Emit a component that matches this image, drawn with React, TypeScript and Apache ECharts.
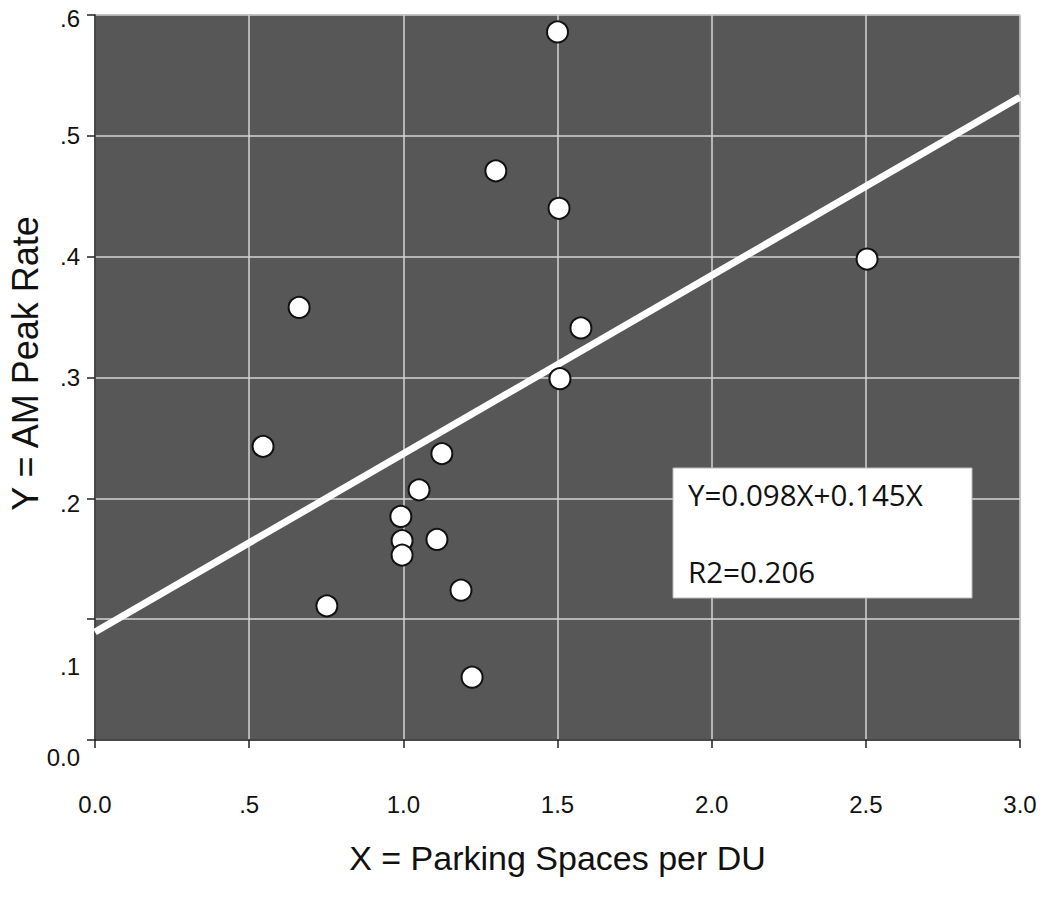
import React, { useEffect, useRef } from "react";
import * as echarts from "echarts";

const xValues = [1.5, 1.3, 1.505, 2.504, 0.662, 1.576, 1.508, 0.545, 1.125, 1.051, 0.992, 0.996, 1.109, 0.996, 0.752, 1.187, 1.223];
const yValues = [0.586, 0.471, 0.44, 0.398, 0.358, 0.341, 0.299, 0.243, 0.237, 0.207, 0.185, 0.165, 0.166, 0.153, 0.111, 0.124, 0.052];
const fitLineX = [0, 3];
const fitLineY = [0.0894, 0.532];
const xTickLabels: Record<string, string> = { "0": "0.0", "0.5": ".5", "1": "1.0", "1.5": "1.5", "2": "2.0", "2.5": "2.5", "3": "3.0" };
const yTickLabels: Record<string, string> = { "0": "0.0", "0.1": ".1", "0.2": ".2", "0.3": ".3", "0.4": ".4", "0.5": ".5", "0.6": ".6" };
const equationText = "Y=0.098X+0.145X";
const r2Text = "R2=0.206";

export default function App() {
  const ref = useRef<HTMLDivElement>(null);
  useEffect(() => {
    if (!ref.current) return;
    const chart = echarts.init(ref.current, undefined, { renderer: "svg" });
    const font = "Liberation Sans";
    const fs = 24;
    const pts = xValues.map((x, i) => [x, yValues[i]]);
    const line = fitLineX.map((x, i) => [x, fitLineY[i]]);
    chart.setOption({
      animation: false,
      backgroundColor: "#ffffff",
      grid: {
        left: 95,
        right: 25,
        top: 15,
        bottom: 172,
        outerBoundsMode: "none",
        containLabel: false,
        show: true,
        backgroundColor: "#575757",
        borderColor: "#333333",
        borderWidth: 1,
      },
      xAxis: {
        type: "value",
        min: 0,
        max: 3,
        interval: 0.5,
        name: "X = Parking Spaces per DU",
        nameLocation: "middle",
        nameGap: 101,
        nameMoveOverlap: false,
        nameTextStyle: { fontFamily: font, fontSize: 34, color: "#111" },
        axisLine: { show: true, lineStyle: { color: "#222", width: 1.5 } },
        axisTick: { show: true, length: 8, lineStyle: { color: "#222", width: 1.5 } },
        axisLabel: {
          margin: 52,
          fontFamily: font,
          fontSize: fs,
          color: "#111",
          formatter: (v: number) => xTickLabels[String(+v.toFixed(2))] ?? "",
        },
        splitLine: { show: true, lineStyle: { color: "#d4d4d4", width: 1.5 } },
      },
      yAxis: {
        type: "value",
        min: 0,
        max: 0.6,
        interval: 0.1,
        name: "Y = AM Peak Rate",
        nameLocation: "middle",
        nameGap: 52,
        nameMoveOverlap: false,
        nameRotate: 90,
        nameTextStyle: { fontFamily: font, fontSize: 36, color: "#111", padding: [0, 0, 0, 28] },
        axisLine: { show: true, lineStyle: { color: "#222", width: 1.5 } },
        axisTick: { show: true, length: 8, lineStyle: { color: "#222", width: 1.5 } },
        axisLabel: {
          margin: 15,
          fontFamily: font,
          fontSize: fs,
          color: "#111",
          formatter: (v: number) => {
            const key = String(+v.toFixed(2));
            const t = yTickLabels[key] ?? "";
            if (key === "0") return `{z|${t}}`;
            if (key === "0.1") return `{o|${t}}`;
            if (key === "0.2") return `{t|${t}}`;
            if (key === "0.6") return `{s|${t}}`;
            return t;
          },
          rich: {
            z: { fontFamily: font, fontSize: fs, color: "#111", padding: [34, 0, 0, 0] },
            o: { fontFamily: font, fontSize: fs, color: "#111", padding: [94, 0, 0, 0] },
            t: { fontFamily: font, fontSize: fs, color: "#111", padding: [10, 0, 0, 0] },
            s: { fontFamily: font, fontSize: fs, color: "#111", padding: [6, 0, 0, 0] },
          },
        },
        splitLine: { show: true, lineStyle: { color: "#d4d4d4", width: 1.5 } },
      },
      series: [
        {
          type: "line",
          data: line,
          symbol: "none",
          lineStyle: { color: "#ffffff", width: 7 },
          z: 3,
        },
        {
          type: "scatter",
          data: pts,
          symbol: "circle",
          symbolSize: 21,
          itemStyle: { color: "#ffffff", borderColor: "#111111", borderWidth: 2, opacity: 1 },
          z: 4,
        },
      ],
      graphic: [
        {
          type: "rect",
          shape: { x: 673, y: 468, width: 299, height: 130 },
          style: { fill: "#ffffff", stroke: "#bbbbbb", lineWidth: 1 },
          z: 10,
        },
        {
          type: "text",
          x: 688,
          y: 494,
          style: { text: equationText, fontFamily: "Open Sans", fontSize: 29.5, fill: "#111", verticalAlign: "middle" },
          z: 11,
        },
        {
          type: "text",
          x: 688,
          y: 571,
          style: { text: r2Text, fontFamily: "Open Sans", fontSize: 29.5, fill: "#111", verticalAlign: "middle" },
          z: 11,
        },
      ],
    });
    return () => chart.dispose();
  }, []);
  return <div ref={ref} style={{ width: 1045, height: 912, position: "absolute", left: 0, top: 0 }} />;
}
